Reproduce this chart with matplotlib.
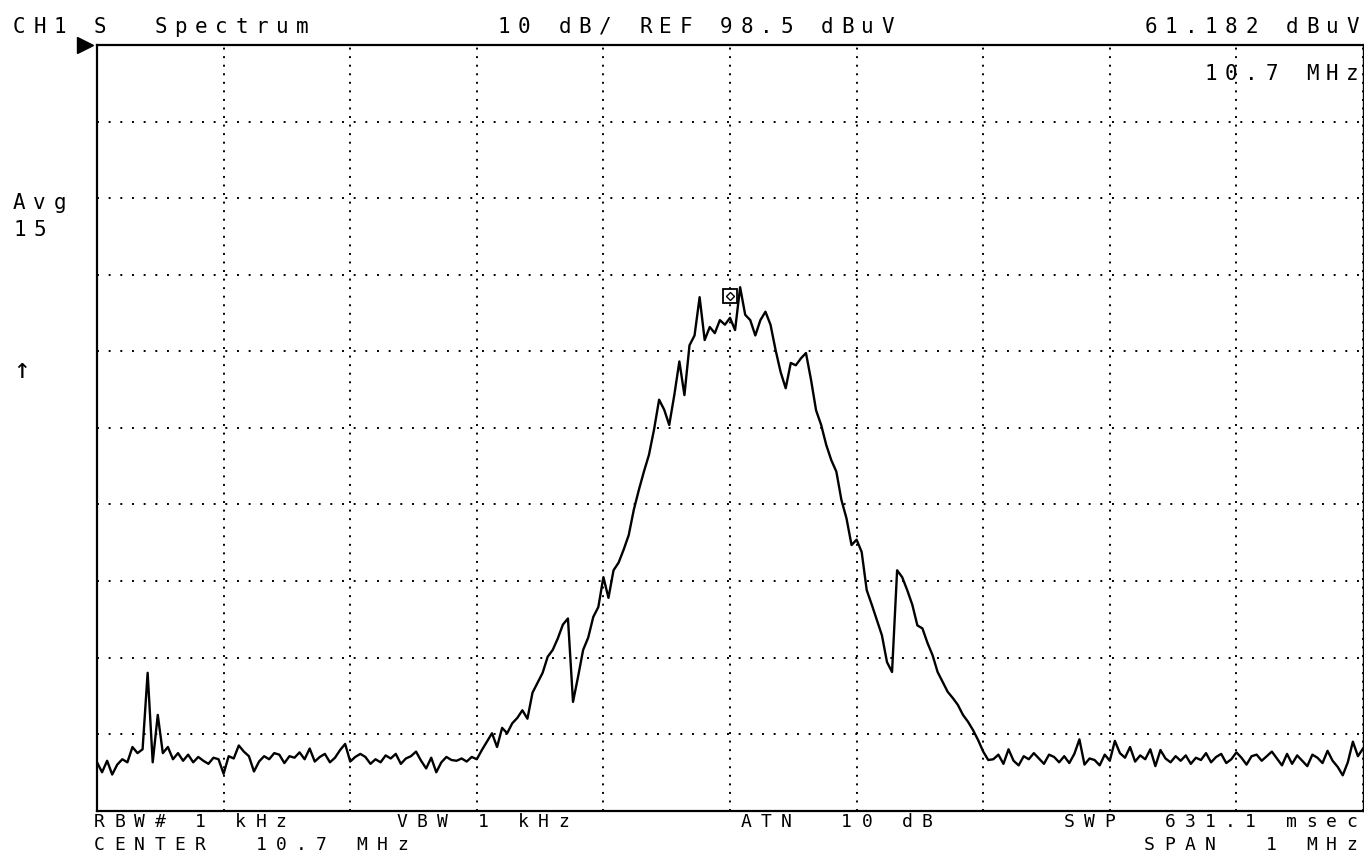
import numpy as np
import matplotlib.pyplot as plt
import matplotlib.transforms as mtransforms

plt.rcParams['font.family'] = ['DejaVu Sans Mono']

# analyser settings
center_mhz = 10.7
span_mhz = 1.0
ref_level = 98.5      # dBuV at top of screen
db_per_div = 10
n_div = 10
marker_mhz = 10.7
marker_dbuv = 61.182

# averaged trace (dBuV), one sample every 4 kHz from 10.2 to 11.2 MHz
floor_left = [4.8, 3.5, 5.0, 3.2, 4.5, 5.2, 4.8, 6.8, 6.0, 6.5,
              16.5, 4.8, 11.0, 6.0, 6.8, 5.2, 6.0, 5.0, 5.8, 4.8,
              5.5, 5.0, 4.6, 5.4, 5.2, 3.3, 5.6, 5.3, 7.0, 6.2,
              5.6, 3.6, 4.9, 5.6, 5.2, 6.0, 5.8, 4.7, 5.6, 5.4,
              6.1, 5.2, 6.6, 4.9, 5.5, 5.9, 4.8, 5.4, 6.4, 7.2,
              4.9, 5.5, 5.9, 5.5, 4.6, 5.2, 4.8, 5.7, 5.3, 5.9,
              4.6, 5.3, 5.6, 6.2, 5.0, 4.0, 5.4, 3.5, 4.8, 5.5,
              5.1, 5.0, 5.3, 4.9, 5.5]
signal = [5.2, 6.4, 7.5, 8.6, 6.8, 9.3, 8.6, 9.9, 10.6, 11.6,
          10.5, 13.9, 15.2, 16.5, 18.6, 19.5, 21.0, 22.8, 23.6, 12.7,
          16.0, 19.5, 21.1, 23.8, 25.1, 29.0, 26.3, 29.9, 30.9, 32.6,
          34.5, 37.8, 40.4, 42.8, 45.0, 48.3, 52.2, 50.9, 48.9, 52.8,
          57.2, 52.8, 59.3, 60.6, 65.6, 60.0, 61.7, 60.9, 62.6, 62.0,
          62.9, 61.3, 66.9, 63.3, 62.6, 60.6, 62.6, 63.7, 62.0, 58.7,
          55.8, 53.7, 57.0, 56.7, 57.6, 58.3, 54.8, 50.8, 48.9, 46.3,
          44.3, 42.8, 39.1, 36.7, 33.2, 33.9, 32.3, 27.3, 25.4, 23.4,
          21.4, 17.9, 16.6, 29.9, 29.0, 27.3, 25.4, 22.7, 22.3, 20.4,
          18.8, 16.6, 15.3, 14.0, 13.2, 12.3, 11.0, 10.1, 9.0, 7.7,
          6.2, 5.1]
floor_right = [5.2, 5.8, 4.6, 6.5, 5.0, 4.4, 5.6, 5.2, 6.0, 5.3,
               4.6, 5.8, 5.5, 4.8, 5.6, 4.7, 5.9, 7.8, 4.5, 5.3,
               5.1, 4.4, 5.8, 5.0, 7.6, 6.0, 5.4, 6.8, 4.9, 5.7,
               5.2, 6.5, 4.3, 6.4, 5.3, 4.8, 5.6, 5.0, 5.7, 4.6,
               5.4, 5.1, 6.0, 4.8, 5.5, 5.9, 4.7, 5.2, 6.1, 5.4,
               4.5, 5.6, 5.8, 5.0, 5.6, 6.2, 5.3, 4.4, 5.9, 4.6,
               5.7, 5.0, 4.3, 5.8, 5.4, 4.7, 6.3, 5.0, 4.2, 3.1,
               4.8, 7.5, 5.6, 6.6]

level = np.array(floor_left + signal + floor_right)
freq = np.linspace(center_mhz - span_mhz / 2, center_mhz + span_mhz / 2, len(level))

# annotation text on the analyser's character grid: (column, text)
top_line = [(0, "CH1"), (4, "S"), (7, "Spectrum"),
            (24, "10 dB/ REF 98.5 dBuV"), (56, "61.182 dBuV")]
marker_line = [(59, "10.7 MHz")]
avg_line = [(0, "Avg")]
avg_count = [(0, "15")]
arrow_line = [(0, "\u2191")]
bottom_line1 = [(4, "RBW# 1 kHz"), (19, "VBW 1 kHz"),
                (36, "ATN  10 dB"), (52, "SWP  631.1 msec")]
bottom_line2 = [(4, "CENTER  10.7 MHz"), (56, "SPAN  1 MHz")]

W, H = 1364, 855
fig = plt.figure(figsize=(W / 100, H / 100), dpi=100)
ax = fig.add_axes([97 / W, 1 - 810.5 / H, 1266 / W, 765 / H])

bottom_level = ref_level - n_div * db_per_div
ax.set_xlim(center_mhz - span_mhz / 2, center_mhz + span_mhz / 2)
ax.set_ylim(bottom_level, ref_level)
ax.set_xticks(np.linspace(center_mhz - span_mhz / 2, center_mhz + span_mhz / 2, n_div + 1))
ax.set_yticks(np.linspace(bottom_level, ref_level, n_div + 1))
ax.tick_params(length=0, labelbottom=False, labelleft=False)
ax.xaxis.grid(True, color='black', lw=1.4, linestyle=(0, (1, 3.4)))
ax.yaxis.grid(True, color='black', lw=1.4, linestyle=(0, (1, 5)))
ax.set_axisbelow(True)

for side in ['top', 'left', 'bottom']:
    ax.spines[side].set_linewidth(1.6)
ax.spines['right'].set_linewidth(1.0)

ax.plot(freq, level, color='black', lw=1.7)

# marker symbol drawn above the marker point
mk_tr = mtransforms.offset_copy(ax.transData, fig=fig, x=0, y=25, units='points')
ax.plot([marker_mhz], [marker_dbuv], marker='s', ms=10, mfc='white', mec='black',
        mew=1.3, transform=mk_tr, clip_on=False)
ax.plot([marker_mhz], [marker_dbuv], marker='D', ms=4, mfc='none', mec='black',
        mew=1.0, transform=mk_tr, clip_on=False)

# reference level indicator
ax.plot([-0.0095], [ref_level], marker='>', ms=11, color='black',
        transform=ax.get_yaxis_transform(), clip_on=False)


def screen_text(baseline_px, items, size=15, pitch=20.2, x0=13):
    for col, s in items:
        for k, ch in enumerate(s):
            if ch != ' ':
                fig.text((x0 + (col + k) * pitch) / W, 1 - baseline_px / H, ch,
                         ha='left', va='baseline', fontsize=size, color='black')


screen_text(33, top_line)
screen_text(80, marker_line)
screen_text(209, avg_line)
screen_text(236, avg_count)
screen_text(378, arrow_line, size=20)
screen_text(827, bottom_line1, size=13)
screen_text(850, bottom_line2, size=13)

fig.savefig('out.png', dpi=100, facecolor='white')
